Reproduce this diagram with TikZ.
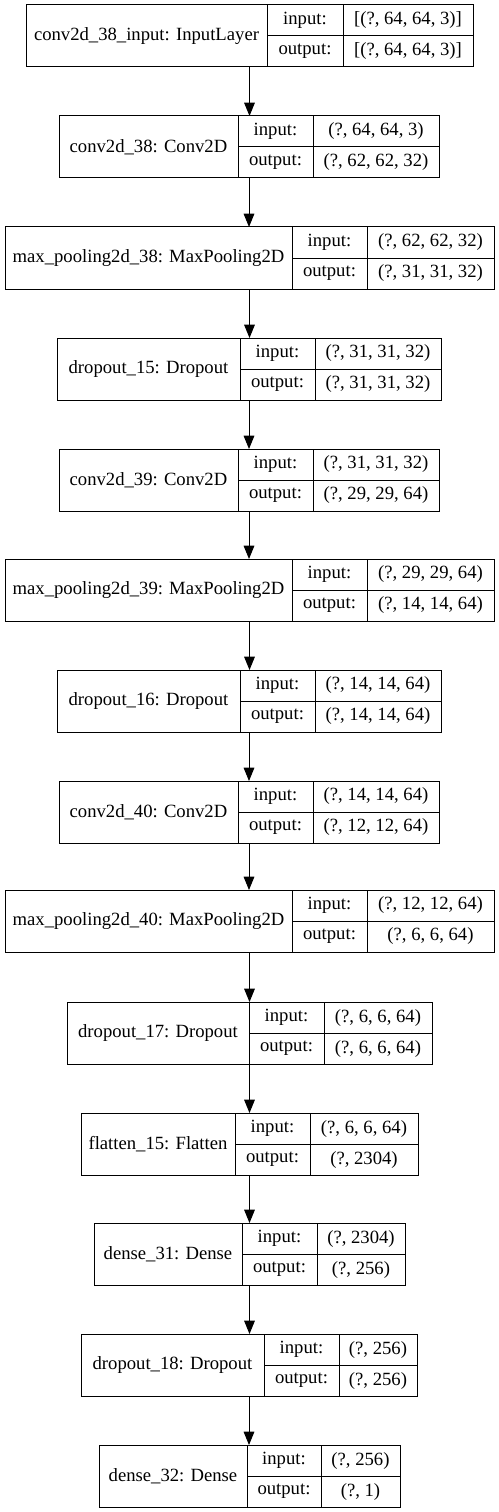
\documentclass[tikz,border=0pt]{standalone}
\usepackage{fontspec}
\setmainfont{Liberation Serif}
\usepackage{tikz}
\usetikzlibrary{arrows.meta,fit}
\tikzstyle{cell} = [draw, line width=0.75pt, inner sep=0pt, outer sep=0pt,
anchor=north west, text centered]
\tikzstyle{wrap} = [draw=none, fill=none, inner sep=0pt, outer sep=0pt]
\tikzstyle{tedge} = [draw, line width=0.75pt, -{Triangle[length=10pt, width=8pt]}]

% #1 id, #2 top, #3 left, #4 first split, #5 second split, #6 right,
% #7 layer name, #8 input shape, #9 output shape
\newcommand{\layerbox}[9]{%
\node[cell, minimum width={(#4-#3)*0.75pt}, minimum height=46.5pt] (#1name) at (#3,#2) {#7};
\node[cell, minimum width={(#5-#4)*0.75pt}, minimum height=23.25pt] (#1in) at (#4,#2) {input:};
\node[cell, minimum width={(#6-#5)*0.75pt}, minimum height=23.25pt] (#1inval) at (#5,#2) {#8};
\node[cell, minimum width={(#5-#4)*0.75pt}, minimum height=23.25pt] (#1out) at (#4,#2+31) {output:};
\node[cell, minimum width={(#6-#5)*0.75pt}, minimum height=23.25pt] (#1outval) at (#5,#2+31) {#9};
\node[wrap, fit=(#1name)(#1inval)(#1outval)] (#1) {};
}

\begin{document}
\begin{tikzpicture}[x=0.75pt, y=-0.75pt, font=\fontsize{14}{16}\selectfont]

\useasboundingbox (0,0) rectangle (499,1512);

\layerbox{inputlayer}{5}{26}{267}{343}{473}{conv2d\_38\_input: InputLayer}{[(?, 64, 64, 3)]}{[(?, 64, 64, 3)]}
\layerbox{convA}{116}{59}{238}{313}{439}{conv2d\_38: Conv2D}{(?, 64, 64, 3)}{(?, 62, 62, 32)}
\layerbox{poolA}{227}{5}{292}{367}{494}{max\_pooling2d\_38: MaxPooling2D}{(?, 62, 62, 32)}{(?, 31, 31, 32)}
\layerbox{dropA}{338}{57}{240}{315}{441}{dropout\_15: Dropout}{(?, 31, 31, 32)}{(?, 31, 31, 32)}
\layerbox{convB}{449}{59}{238}{313}{439}{conv2d\_39: Conv2D}{(?, 31, 31, 32)}{(?, 29, 29, 64)}
\layerbox{poolB}{559}{5}{292}{367}{494}{max\_pooling2d\_39: MaxPooling2D}{(?, 29, 29, 64)}{(?, 14, 14, 64)}
\layerbox{dropB}{670}{57}{240}{315}{441}{dropout\_16: Dropout}{(?, 14, 14, 64)}{(?, 14, 14, 64)}
\layerbox{convC}{781}{59}{238}{313}{439}{conv2d\_40: Conv2D}{(?, 14, 14, 64)}{(?, 12, 12, 64)}
\layerbox{poolC}{890}{5}{292}{367}{494}{max\_pooling2d\_40: MaxPooling2D}{(?, 12, 12, 64)}{(?, 6, 6, 64)}
\layerbox{dropC}{1002}{67}{249}{324}{432}{dropout\_17: Dropout}{(?, 6, 6, 64)}{(?, 6, 6, 64)}
\layerbox{flatten}{1113}{81}{235}{310}{418}{flatten\_15: Flatten}{(?, 6, 6, 64)}{(?, 2304)}
\layerbox{denseA}{1223}{94}{242}{317}{405}{dense\_31: Dense}{(?, 2304)}{(?, 256)}
\layerbox{dropD}{1334}{81}{264}{339}{417}{dropout\_18: Dropout}{(?, 256)}{(?, 256)}
\layerbox{denseB}{1445}{99}{247}{321}{400}{dense\_32: Dense}{(?, 256)}{(?, 1)}

\draw[tedge] (inputlayer.south) -- (inputlayer.south |- convA.north);
\draw[tedge] (convA.south) -- (convA.south |- poolA.north);
\draw[tedge] (poolA.south) -- (poolA.south |- dropA.north);
\draw[tedge] (dropA.south) -- (dropA.south |- convB.north);
\draw[tedge] (convB.south) -- (convB.south |- poolB.north);
\draw[tedge] (poolB.south) -- (poolB.south |- dropB.north);
\draw[tedge] (dropB.south) -- (dropB.south |- convC.north);
\draw[tedge] (convC.south) -- (convC.south |- poolC.north);
\draw[tedge] (poolC.south) -- (poolC.south |- dropC.north);
\draw[tedge] (dropC.south) -- (dropC.south |- flatten.north);
\draw[tedge] (flatten.south) -- (flatten.south |- denseA.north);
\draw[tedge] (denseA.south) -- (denseA.south |- dropD.north);
\draw[tedge] (dropD.south) -- (dropD.south |- denseB.north);

\end{tikzpicture}
\end{document}
